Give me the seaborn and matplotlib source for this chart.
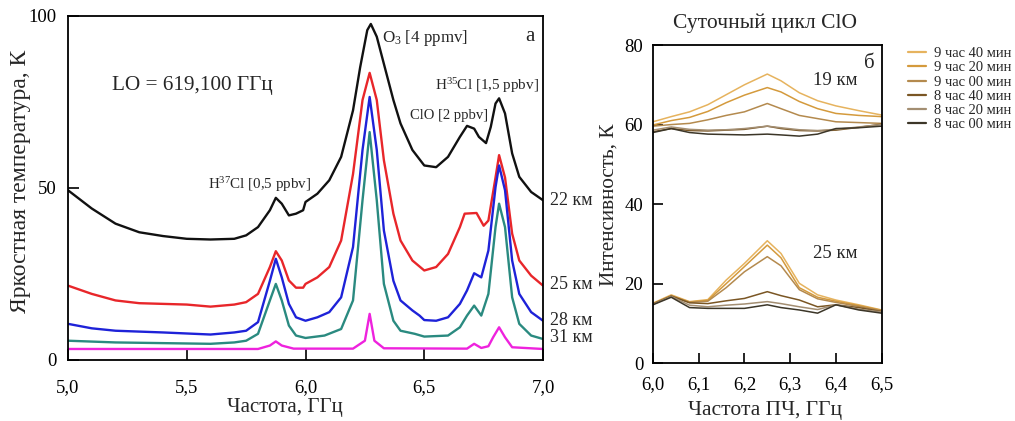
import matplotlib
matplotlib.use("Agg")
import matplotlib.pyplot as plt
import seaborn as sns
import pandas as pd
import numpy as np

sns.set_theme(style="ticks")
plt.rcParams['font.family'] = ['Liberation Serif', 'DejaVu Serif']
plt.rcParams['mathtext.fontset'] = 'custom'
plt.rcParams['mathtext.rm'] = 'Liberation Serif'
plt.rcParams['mathtext.it'] = 'Liberation Serif:italic'

# ---- panel a: spectra at several altitudes ----
x22 = [5.0, 5.1, 5.2, 5.3, 5.4, 5.5, 5.6, 5.7, 5.75, 5.8, 5.85, 5.875, 5.9, 5.93, 5.96, 5.99, 6.0,
       6.05, 6.1, 6.15, 6.2, 6.23, 6.26, 6.275, 6.3, 6.33, 6.37, 6.4, 6.45, 6.5, 6.55, 6.6, 6.65,
       6.68, 6.71, 6.73, 6.76, 6.78, 6.8, 6.815, 6.84, 6.87, 6.9, 6.95, 7.0]
y22 = [49.3, 44.0, 39.6, 37.1, 36.0, 35.2, 35.0, 35.2, 36.2, 38.6, 43.5, 47.1, 45.4, 42.0, 42.5, 43.5, 45.9,
       48.3, 52.2, 59.0, 72.5, 85.0, 95.8, 97.6, 93.9, 86.0, 75.5, 68.7, 61.0, 56.5, 56.0, 59.0, 64.8,
       68.0, 67.2, 64.8, 63.0, 67.7, 74.5, 76.0, 71.6, 60.0, 53.2, 48.8, 46.4]

x25 = [5.0, 5.1, 5.2, 5.3, 5.5, 5.6, 5.7, 5.75, 5.8, 5.85, 5.875, 5.9, 5.93, 5.96, 5.99, 6.0,
       6.05, 6.1, 6.15, 6.2, 6.24, 6.27, 6.3, 6.33, 6.37, 6.4, 6.45, 6.5, 6.55, 6.6, 6.65,
       6.67, 6.72, 6.75, 6.77, 6.8, 6.815, 6.84, 6.87, 6.9, 6.95, 7.0]
y25 = [21.6, 19.2, 17.3, 16.5, 16.1, 15.5, 16.1, 16.8, 19.2, 27.0, 31.6, 28.9, 23.1, 21.0, 21.0, 22.1,
       24.0, 27.0, 34.7, 54.0, 75.5, 83.4, 75.5, 58.0, 42.5, 34.7, 28.9, 26.0, 27.0, 30.8, 38.6,
       42.5, 42.7, 39.0, 40.5, 53.0, 59.5, 53.0, 36.7, 28.9, 24.5, 21.6]

x28 = [5.0, 5.1, 5.2, 5.4, 5.6, 5.7, 5.75, 5.8, 5.85, 5.875, 5.9, 5.93, 5.96, 6.0, 6.05, 6.1,
       6.15, 6.2, 6.24, 6.27, 6.3, 6.33, 6.37, 6.4, 6.45, 6.48, 6.5, 6.55, 6.6, 6.65, 6.68,
       6.71, 6.74, 6.77, 6.8, 6.815, 6.84, 6.87, 6.9, 6.95, 7.0]
y28 = [10.5, 9.2, 8.5, 8.0, 7.4, 8.0, 8.5, 11.0, 23.0, 29.4, 24.0, 16.3, 12.4, 11.4, 12.4, 13.9,
       18.2, 32.8, 61.0, 76.4, 61.0, 37.6, 23.0, 17.3, 14.4, 12.9, 11.6, 11.4, 12.4, 16.3, 20.2,
       25.2, 24.0, 31.8, 50.2, 56.5, 49.3, 28.9, 19.2, 13.9, 11.4]

x31 = [5.0, 5.2, 5.4, 5.6, 5.7, 5.75, 5.8, 5.85, 5.875, 5.9, 5.93, 5.96, 6.0, 6.08, 6.15, 6.2,
       6.24, 6.27, 6.3, 6.33, 6.37, 6.4, 6.46, 6.5, 6.6, 6.65, 6.68, 6.71, 6.74, 6.77, 6.8,
       6.815, 6.84, 6.87, 6.9, 6.95, 7.0]
y31 = [5.6, 5.1, 4.9, 4.7, 5.1, 5.6, 7.6, 17.3, 22.1, 17.3, 10.0, 7.1, 6.4, 7.1, 9.0, 17.3,
       46.4, 66.2, 46.4, 22.1, 11.4, 8.5, 7.6, 6.8, 7.1, 9.5, 12.9, 15.8, 12.9, 19.2, 38.6,
       45.4, 38.6, 18.2, 10.5, 7.1, 6.1]

x34 = [5.0, 5.5, 5.8, 5.85, 5.875, 5.9, 5.95, 6.2, 6.25, 6.27, 6.29, 6.33, 6.68, 6.71, 6.74,
       6.77, 6.79, 6.815, 6.84, 6.87, 7.0]
y34 = [3.2, 3.2, 3.2, 4.2, 5.4, 4.2, 3.3, 3.3, 5.6, 13.4, 5.6, 3.4, 3.3, 4.7, 3.5, 4.0, 6.6,
       9.5, 6.6, 3.7, 3.2]

left_names = ["22", "25", "28", "31", "34"]
left_colors = ["#111111", "#e8262a", "#1e22d8", "#2a8a80", "#ee22dd"]
alt_labels = ["22 км", "25 км", "28 км", "31 км"]
alt_label_y = [46.3, 22.0, 11.6, 6.5]

# ---- panel b: diurnal ClO cycle ----
times = ["9 час 40 мин", "9 час 20 мин", "9 час 00 мин",
         "8 час 40 мин", "8 час 20 мин", "8 час 00 мин"]
time_colors = ["#e6b35e", "#d49a3c", "#b48a4e", "#7a5624", "#a38e72", "#3c3628"]

xb = [6.0, 6.04, 6.08, 6.12, 6.16, 6.2, 6.25, 6.28, 6.32, 6.36, 6.4, 6.45, 6.5]
b19 = {
    "9 час 40 мин": [60.7, 62.0, 63.2, 65.0, 67.5, 70.0, 72.7, 71.0, 68.0, 66.0, 64.7, 63.5, 62.4],
    "9 час 20 мин": [59.9, 61.0, 61.8, 63.3, 65.5, 67.4, 69.3, 68.2, 65.8, 64.0, 62.8, 62.3, 62.0],
    "9 час 00 мин": [59.6, 60.0, 60.3, 61.2, 62.3, 63.2, 65.3, 64.0, 62.3, 61.5, 60.7, 60.5, 60.3],
    "8 час 40 мин": [58.2, 59.0, 58.5, 58.4, 58.6, 58.8, 59.6, 59.0, 58.5, 58.4, 58.6, 59.3, 60.1],
    "8 час 20 мин": [58.6, 59.4, 58.8, 58.6, 58.7, 59.0, 59.6, 59.2, 58.7, 58.5, 58.8, 59.4, 60.0],
    "8 час 00 мин": [58.0, 59.0, 58.0, 57.6, 57.5, 57.4, 57.6, 57.4, 57.1, 57.6, 59.0, 59.2, 59.6],
}
b25 = {
    "9 час 40 мин": [15.1, 17.2, 15.5, 16.0, 20.9, 25.1, 30.8, 27.6, 20.1, 17.2, 15.9, 14.7, 13.4],
    "9 час 20 мин": [15.0, 17.0, 15.4, 15.8, 20.0, 24.3, 29.7, 26.5, 19.0, 16.6, 15.6, 14.5, 13.3],
    "9 час 00 мин": [14.9, 16.9, 15.3, 15.6, 19.0, 23.0, 26.8, 24.5, 18.5, 16.2, 15.3, 14.3, 13.2],
    "8 час 40 мин": [14.9, 16.9, 15.2, 15.0, 15.7, 16.3, 18.0, 17.0, 15.9, 14.2, 14.7, 14.0, 13.0],
    "8 час 20 мин": [14.8, 16.8, 14.6, 14.2, 14.6, 14.9, 15.5, 15.0, 14.2, 13.5, 14.7, 13.6, 12.9],
    "8 час 00 мин": [14.7, 16.6, 14.0, 13.8, 13.8, 13.8, 14.7, 14.0, 13.4, 12.6, 14.7, 13.4, 12.6],
}

# long tables for seaborn
rows = []
for name, xs, ys in zip(left_names, [x22, x25, x28, x31, x34], [y22, y25, y28, y31, y34]):
    rows.append(pd.DataFrame({"f": xs, "T": ys, "alt": name}))
df_a = pd.concat(rows, ignore_index=True)

rows = []
for grp, d in [("19", b19), ("25", b25)]:
    for t in times:
        rows.append(pd.DataFrame({"f": xb, "T": d[t], "time": t, "grp": grp}))
df_b = pd.concat(rows, ignore_index=True)

fig = plt.figure(figsize=(10.15, 4.21), dpi=100)
ax1 = fig.add_axes([0.0670, 0.1449, 0.4680, 0.8178])
ax2 = fig.add_axes([0.6433, 0.1371, 0.2253, 0.7560])

sns.lineplot(data=df_a, x="f", y="T", hue="alt", palette=left_colors, hue_order=left_names,
             estimator=None, sort=False, linewidth=1.7, legend=False, ax=ax1)
ax1.set_xlim(5.0, 7.0)
ax1.set_ylim(0, 100)
ax1.set_xticks([5.0, 5.5, 6.0, 6.5, 7.0])
ax1.set_xticklabels(["5,0", "5,5", "6,0", "6,5", "7,0"])
ax1.set_yticks([0, 50, 100])
ax1.set_xlabel("Частота, ГГц", fontsize=15)
ax1.set_ylabel("Яркостная температура, К", fontsize=17)
ax1.xaxis.set_label_coords(0.457, -0.11)
ax1.yaxis.set_label_coords(-0.078, 0.52)
ax1.tick_params(direction="in", length=8, width=1.2, labelsize=13.5, colors="black")
ax1.tick_params(axis="x", pad=14)
ax1.tick_params(axis="y", pad=8)

ax1.text(5.184, 79.6, "LO = 619,100 ГГц", fontsize=15.3, va="center")
ax1.text(6.321, 93.6, "O$_3$ [4 ppmv]", fontsize=12.2, va="center")
ax1.text(6.966, 93.9, "а", fontsize=15, ha="right", va="center")
ax1.text(6.545, 79.6, "H$^{35}$Cl [1,5 ppbv]", fontsize=10.9, va="center")
ax1.text(6.44, 70.9, "ClO [2 ppbv]", fontsize=10.5, va="center")
ax1.text(5.59, 51.1, "H$^{37}$Cl [0,5 ppbv]", fontsize=10.8, va="center")
for lab, yy in zip(alt_labels, alt_label_y):
    ax1.text(7.03, yy, lab, fontsize=13, va="center", clip_on=False)

sns.lineplot(data=df_b[df_b.grp == "19"], x="f", y="T", hue="time", hue_order=times,
             palette=time_colors, estimator=None, sort=False, linewidth=1.1, ax=ax2)
sns.lineplot(data=df_b[df_b.grp == "25"], x="f", y="T", hue="time", hue_order=times,
             palette=time_colors, estimator=None, sort=False, linewidth=1.1, legend=False, ax=ax2)
ax2.set_xlim(6.0, 6.5)
ax2.set_ylim(0, 80)
ax2.set_xticks([6.0, 6.1, 6.2, 6.3, 6.4, 6.5])
ax2.set_xticklabels(["6,0", "6,1", "6,2", "6,3", "6,4", "6,5"])
ax2.set_yticks([0, 20, 40, 60, 80])
ax2.set_xlabel("Частота ПЧ, ГГц", fontsize=15.5)
ax2.set_ylabel("Интенсивность, К", fontsize=15.3)
ax2.xaxis.set_label_coords(0.492, -0.12)
ax2.yaxis.set_label_coords(-0.15, 0.497)
ax2.set_title("Суточный цикл ClO", fontsize=15.5, x=0.49, y=1.0, pad=12)
ax2.tick_params(direction="in", length=7, width=1.2, labelsize=13.5, colors="black")
ax2.tick_params(axis="x", pad=9)
ax2.tick_params(axis="y", pad=7)
ax2.text(6.485, 75.4, "б", fontsize=15, ha="right", va="center")
ax2.text(6.398, 71.2, "19 км", fontsize=13.5, ha="center", va="center")
ax2.text(6.398, 27.7, "25 км", fontsize=13.5, ha="center", va="center")

leg = ax2.legend(loc="upper left", bbox_to_anchor=(908 / 1015, 1 - 47 / 421),
                 bbox_transform=fig.transFigure, frameon=False, fontsize=10.5,
                 handlelength=1.2, handletextpad=0.6, labelspacing=0.07,
                 borderaxespad=0, borderpad=0)
for h in leg.get_lines():
    h.set_linewidth(1.6)

for ax in (ax1, ax2):
    for s in ax.spines.values():
        s.set_color("black")
        s.set_linewidth(1.3)

fig.savefig("out.png", dpi=100)
